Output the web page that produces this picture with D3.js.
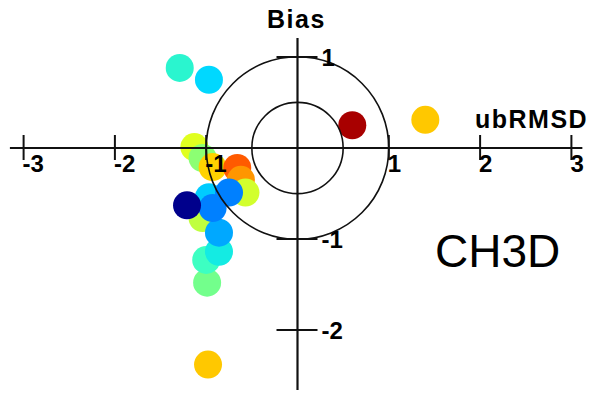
<!DOCTYPE html>
<html>
<head>
<meta charset="utf-8">
<script src="https://cdn.jsdelivr.net/npm/d3@7"></script>
<style>
  body { margin: 0; background: white; }
  text { font-family: "Liberation Sans", Arial, sans-serif; }
</style>
</head>
<body>
<script>
// target diagram values (ubRMSD on x, bias on y)
var ubrmsd = [-1.13, -1.04, -0.93, -0.66, -0.62, -0.57, -1.04, -0.99, -1.00,
              -0.86, -0.86, -0.97, -0.75, -0.93, -1.21,
              -1.29, -0.97, 0.60, 1.40, -0.98];
var bias = [0.01, -0.11, -0.21, -0.22, -0.35, -0.49, -0.77, -1.48, -1.23,
            -1.14, -0.93, -0.54, -0.49, -0.66, -0.63,
            0.88, 0.75, 0.25, 0.31, -2.38];
var pointColors = ["#e0ff1f", "#8cff73", "#ffd200", "#ff5a00", "#ff9600",
                   "#d2ff2d", "#c0ff3f", "#73ff8c", "#3dffc2",
                   "#14ebe3", "#00a8ff", "#00ccff", "#0080ff", "#0080ff", "#00008c",
                   "#2af5cf", "#00d8ff", "#a80000", "#ffc800", "#ffc800"];
var xTicks = [-3, -2, -1, 1, 2, 3];
var yTicks = [1, -1, -2];
var circleRadii = [0.5, 1];

// plot parameters
var param = {width: 592, height: 397};

var svg = d3.select("body")
            .append("svg")
            .attr("width", param.width)
            .attr("height", param.height);

// scales, centre of the target at (297.5, 148)
var xScale = d3.scaleLinear()
               .domain([-3, 3])
               .range([297.5 - 3 * 91.3, 297.5 + 3 * 91.3]);
var yScale = d3.scaleLinear()
               .domain([-2, 1])
               .range([148 + 2 * 91, 148 - 91]);

// points
svg.append("g")
   .selectAll("circle")
   .data(ubrmsd)
   .enter()
   .append("circle")
   .attr("cx", function(d) { return xScale(d); })
   .attr("cy", function(d, i) { return yScale(bias[i]); })
   .attr("r", 14)
   .attr("fill", function(d, i) { return pointColors[i]; });

// reference circles
svg.append("g")
   .selectAll("circle")
   .data(circleRadii)
   .enter()
   .append("circle")
   .attr("cx", xScale(0))
   .attr("cy", yScale(0))
   .attr("r", function(d) { return xScale(d) - xScale(0); })
   .attr("fill", "none")
   .attr("stroke", "#111")
   .attr("stroke-width", 1.6);

// axes lines
svg.append("line")
   .attr("x1", xScale(-3.15)).attr("x2", xScale(3.12))
   .attr("y1", yScale(0)).attr("y2", yScale(0))
   .attr("stroke", "#111").attr("stroke-width", 2.2);
svg.append("line")
   .attr("x1", xScale(0)).attr("x2", xScale(0))
   .attr("y1", yScale(1.21)).attr("y2", yScale(-2.66))
   .attr("stroke", "#111").attr("stroke-width", 2.2);

// x ticks and labels
var xt = svg.append("g").selectAll("g")
            .data(xTicks).enter().append("g");
xt.append("line")
  .attr("x1", function(d) { return xScale(d); })
  .attr("x2", function(d) { return xScale(d); })
  .attr("y1", yScale(0) - 13).attr("y2", yScale(0) + 12)
  .attr("stroke", "#111").attr("stroke-width", 2);
xt.append("text")
  .attr("x", function(d) { return xScale(d) - 1; })
  .attr("y", yScale(0) + 24)
  .style("font-size", "24px")
  .style("font-weight", "bold")
  .text(function(d) { return d; });

// y ticks and labels
var yt = svg.append("g").selectAll("g")
            .data(yTicks).enter().append("g");
yt.append("line")
  .attr("x1", xScale(0) - 21).attr("x2", xScale(0) + 20)
  .attr("y1", function(d) { return yScale(d); })
  .attr("y2", function(d) { return yScale(d); })
  .attr("stroke", "#111").attr("stroke-width", 2);
yt.append("text")
  .attr("x", xScale(0) + 24)
  .attr("y", function(d) { return yScale(d) + 9; })
  .style("font-size", "24px")
  .style("font-weight", "bold")
  .text(function(d) { return d; });

// axis titles
svg.append("text")
   .attr("x", 267).attr("y", 28)
   .style("font-size", "25px")
   .style("font-weight", "bold")
   .style("letter-spacing", "1.5px")
   .text("Bias");
svg.append("text")
   .attr("x", 475).attr("y", 128)
   .style("font-size", "25px")
   .style("font-weight", "bold")
   .style("letter-spacing", "1.5px")
   .text("ubRMSD");

// model name
svg.append("text")
   .attr("x", 435).attr("y", 267)
   .style("font-size", "46px")
   .text("CH3D");
</script>
</body>
</html>
